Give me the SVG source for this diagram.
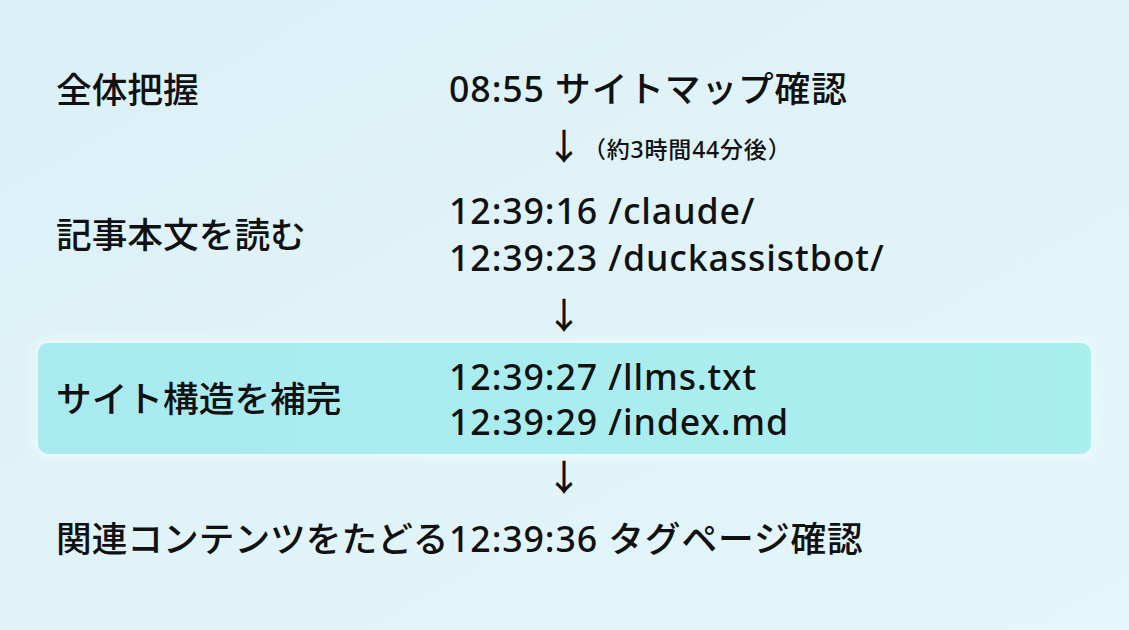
<svg xmlns="http://www.w3.org/2000/svg" width="1129" height="630" viewBox="0 0 1129 630">
  <defs>
    <linearGradient id="bg" x1="0" y1="0" x2="1" y2="1">
      <stop offset="0" stop-color="#dbf0f7"/>
      <stop offset="1" stop-color="#e4f6fa"/>
    </linearGradient>
    <linearGradient id="hl" x1="0" y1="0" x2="1" y2="0">
      <stop offset="0" stop-color="#a9eaee"/>
      <stop offset="1" stop-color="#aaeff0"/>
    </linearGradient>
    <filter id="glow" x="-5%" y="-30%" width="110%" height="160%">
      <feGaussianBlur stdDeviation="5"/>
    </filter>
    <style>
      text { font-family: "Noto Sans", "Noto Sans CJK JP", sans-serif; font-weight: 500; fill: #111111; }
      .main { font-size: 35.7px; }
      .right { letter-spacing: 0.9px; }
      .note { font-size: 23px; letter-spacing: 0.8px; }
      .arrow { font-family: "Noto Sans CJK JP", sans-serif; font-size: 36px; text-anchor: middle; }
    </style>
  </defs>
  <rect width="1129" height="630" fill="url(#bg)"/>

  <g id="highlight">
    <rect x="34" y="339" width="1061" height="119" rx="14" fill="#eefcfd" opacity="0.8" filter="url(#glow)"/>
    <rect x="38" y="343" width="1053" height="111" rx="10" fill="url(#hl)"/>
  </g>

  <g id="row1">
    <text class="main" x="56" y="103">全体把握</text>
    <text class="main right" x="449" y="102">08:55 サイトマップ確認</text>
  </g>
  <g id="row2">
    <text class="main" x="56" y="248">記事本文を読む</text>
    <text class="main right" x="449" y="224">12:39:16 /claude/</text>
    <text class="main right" x="449" y="271">12:39:23 /duckassistbot/</text>
  </g>
  <g id="row3">
    <text class="main" x="56" y="412">サイト構造を補完</text>
    <text class="main right" x="449" y="390">12:39:27 /llms.txt</text>
    <text class="main right" x="449" y="435">12:39:29 /index.md</text>
  </g>
  <g id="row4">
    <text class="main" x="56" y="552">関連コンテンツをたどる</text>
    <text class="main right" x="449" y="552">12:39:36 タグページ確認</text>
  </g>

  <g id="connectors">
    <text class="arrow" x="564" y="160">↓</text>
    <text class="note" x="583" y="158">（約3時間44分後）</text>
    <text class="arrow" x="564" y="329">↓</text>
    <text class="arrow" x="564" y="491">↓</text>
  </g>
</svg>
